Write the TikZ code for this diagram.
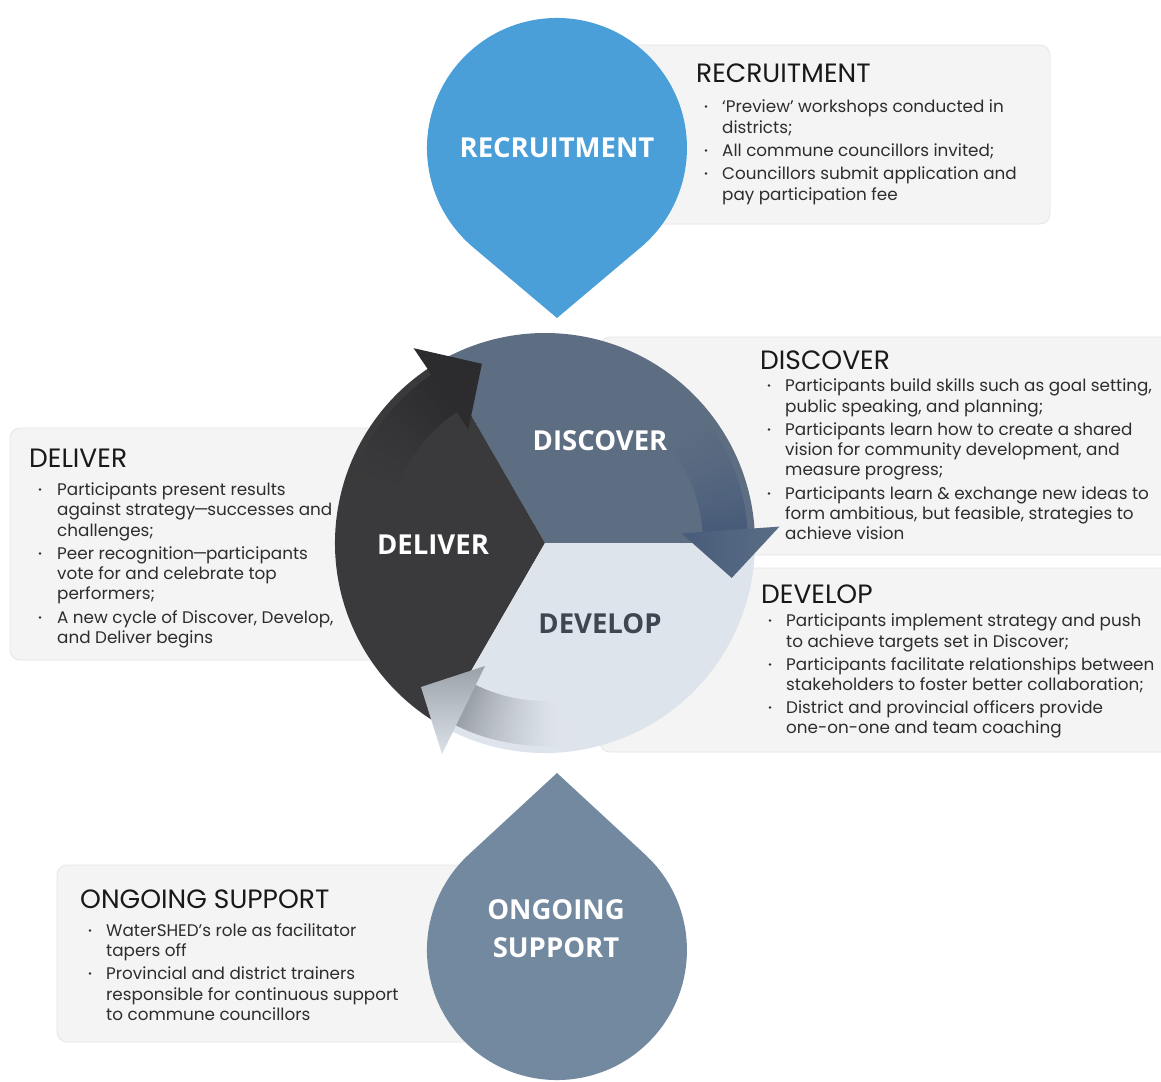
\documentclass[tikz,border=0pt]{standalone}
\usepackage{fontspec}
\setmainfont{Poppins}
\newfontfamily\lblfont{Open Sans}
\definecolor{recb}{RGB}{74,159,217}
\definecolor{ongb}{RGB}{114,137,160}
\definecolor{boxc}{RGB}{244,244,244}
\definecolor{boxl}{RGB}{230,230,230}
\definecolor{txt}{RGB}{45,45,45}
\definecolor{hdc}{RGB}{25,25,25}
\definecolor{disc}{RGB}{94,110,130}
\definecolor{discA}{RGB}{72,92,122}
\definecolor{discH}{RGB}{90,109,134}
\definecolor{delv}{RGB}{58,58,60}
\definecolor{delvA}{RGB}{44,44,46}
\definecolor{devl}{RGB}{222,228,236}
\definecolor{devlA}{RGB}{155,161,169}
\definecolor{devlH}{RGB}{220,226,234}
\definecolor{devT}{RGB}{62,70,80}
\newcommand\tline[4]{\node[bt] (#1) at (#2,-#3) {#4};}
\newcommand\tbul[2]{\fill[txt] (#1,-#2+5.5) circle (1.3);}
\newcommand\ndash{\kern-1.5pt—\kern-1.5pt}
% #1 rotation, #2 segment colour, #3 arrow colour, #4 span in degrees
\newcommand\shaftband[4]{%
\begin{scope}[shift={(545,-543)}, rotate=#1]
\foreach \i in {0,...,29}{
 \pgfmathsetmacro\aa{4+#4*(1-\i/30)}
 \pgfmathsetmacro\bb{\aa-#4/30-0.4}
 \pgfmathsetmacro\pp{100*(\i/29)^1.5}
 \fill[#3!\pp!#2] (\aa:158) arc[start angle=\aa, end angle=\bb, radius=158] -- (\bb:203) arc[start angle=\bb, end angle=\aa, radius=203] -- cycle;
}
\end{scope}}
\tikzset{
 bt/.style={anchor=base west, inner sep=0pt, font=\fontsize{16.8}{20}\selectfont, text=txt},
 hd/.style={anchor=base west, inner sep=0pt, font=\fontsize{26.5}{30}\selectfont, text=hdc},
 lbl/.style={font=\lblfont\bfseries\fontsize{27.5}{38}\selectfont, text=white, inner sep=0pt, align=center},
 box/.style={fill=boxc, draw=boxl, line width=0.8pt, rounded corners=10pt},
}
\begin{document}
\begin{tikzpicture}[x=1pt,y=1pt]
\useasboundingbox (0,0) rectangle (1161,-1081);
\fill[white] (0,0) rectangle (1161,-1081);

% boxes
\path[box] (600,-45) rectangle (1050,-224);
\path[box] (600,-337) rectangle (1175,-555);
\path[box] (600,-568) rectangle (1175,-752);
\path[box] (10,-428) rectangle (430,-660);
\path[box] (57,-865) rectangle (500,-1042);

% recruitment drop
\fill[recb] (557,-318) -- (640.7,-247.4) arc[start angle=-49.9, end angle=230.1, radius=130] -- cycle;
% ongoing drop
\fill[ongb] (557,-773) -- (645.1,-854.5) arc[start angle=47.3, end angle=-227.3, radius=130] -- cycle;

% cycle sectors
\begin{scope}[shift={(545,-543)}]
\fill[disc] (0,0) -- (0:210) arc[start angle=0, end angle=120, radius=210] -- cycle;
\fill[delv] (0,0) -- (120:210) arc[start angle=120, end angle=240, radius=210] -- cycle;
\fill[devl] (0,0) -- (240:210) arc[start angle=240, end angle=360, radius=210] -- cycle;
\end{scope}

% shafts
\shaftband{0}{disc}{discA}{40}
\shaftband{120}{delv}{delvA}{40}
\shaftband{240}{devl}{devlA}{32}

% arrowheads
\begin{scope}[shift={(545,-543)}]
\shade[left color=discA, right color=discH] (4:137) -- (4:235) -- (-10.6:190) -- cycle;
\end{scope}
\begin{scope}[shift={(545,-543)}, rotate=120]
\fill[delvA] (4:137) -- (4:235) -- (-10.6:190) -- cycle;
\end{scope}
\shade[top color=devlA, bottom color=devlH] (485,-666) -- (442,-754) -- (421,-687) -- cycle;

% labels in shapes
\node[lbl] (rlab) at (557,-148) {RECRUITMENT};
\node[lbl] (dlab) at (600,-441) {DISCOVER};
\node[lbl] (llab) at (433,-545) {DELIVER};
\node[lbl, text=devT] (vlab) at (600,-624) {DEVELOP};
\node[lbl] (olab) at (556,-929) {ONGOING\\SUPPORT};

% recruitment text
\node[hd] (rh) at (696,-82) {RECRUITMENT};
\tbul{706}{112}\tbul{706}{156}\tbul{706}{179}
\tline{r1}{722}{112}{‘Preview’ workshops conducted in}
\tline{r2}{722}{133}{districts;}
\tline{r3}{722}{156}{All commune councillors invited;}
\tline{r4}{722}{179}{Councillors submit application and}
\tline{r5}{722}{200}{pay participation fee}

% discover text
\node[hd] (dh) at (760,-369) {DISCOVER};
\tbul{769}{391}\tbul{769}{435}\tbul{769}{499}
\tline{d1}{785}{391}{Participants build skills such as goal setting,}
\tline{d2}{785}{412}{public speaking, and planning;}
\tline{d3}{785}{435}{Participants learn how to create a shared}
\tline{d4}{785}{455}{vision for community development, and}
\tline{d5}{785}{475}{measure progress;}
\tline{d6}{785}{499}{Participants learn \& exchange new ideas to}
\tline{d7}{785}{519}{form ambitious, but feasible, strategies to}
\tline{d8}{785}{539}{achieve vision}

% develop text
\node[hd] (vh) at (761,-603) {DEVELOP};
\tbul{770}{626}\tbul{770}{670}\tbul{770}{713}
\tline{v1}{786}{626}{Participants implement strategy and push}
\tline{v2}{786}{647}{to achieve targets set in Discover;}
\tline{v3}{786}{670}{Participants facilitate relationships between}
\tline{v4}{786}{690}{stakeholders to foster better collaboration;}
\tline{v5}{786}{713}{District and provincial officers provide}
\tline{v6}{786}{733}{one-on-one and team coaching}

% deliver text
\node[hd] (lh) at (29,-467) {DELIVER};
\tbul{40}{495}\tbul{40}{559}\tbul{40}{623}
\tline{l1}{57}{495}{Participants present results}
\tline{l2}{57}{515}{against strategy\ndash successes and}
\tline{l3}{57}{536}{challenges;}
\tline{l4}{57}{559}{Peer recognition\ndash participants}
\tline{l5}{57}{579}{vote for and celebrate top}
\tline{l6}{57}{599}{performers;}
\tline{l7}{57}{623}{A new cycle of Discover, Develop,}
\tline{l8}{57}{643}{and Deliver begins}

% ongoing text
\node[hd] (oh) at (80,-908) {ONGOING SUPPORT};
\tbul{90}{936}\tbul{90}{979}
\tline{o1}{106}{936}{WaterSHED’s role as facilitator}
\tline{o2}{106}{956}{tapers off}
\tline{o3}{106}{979}{Provincial and district trainers}
\tline{o4}{106}{1000}{responsible for continuous support}
\tline{o5}{106}{1020}{to commune councillors}
\end{tikzpicture}
\end{document}
